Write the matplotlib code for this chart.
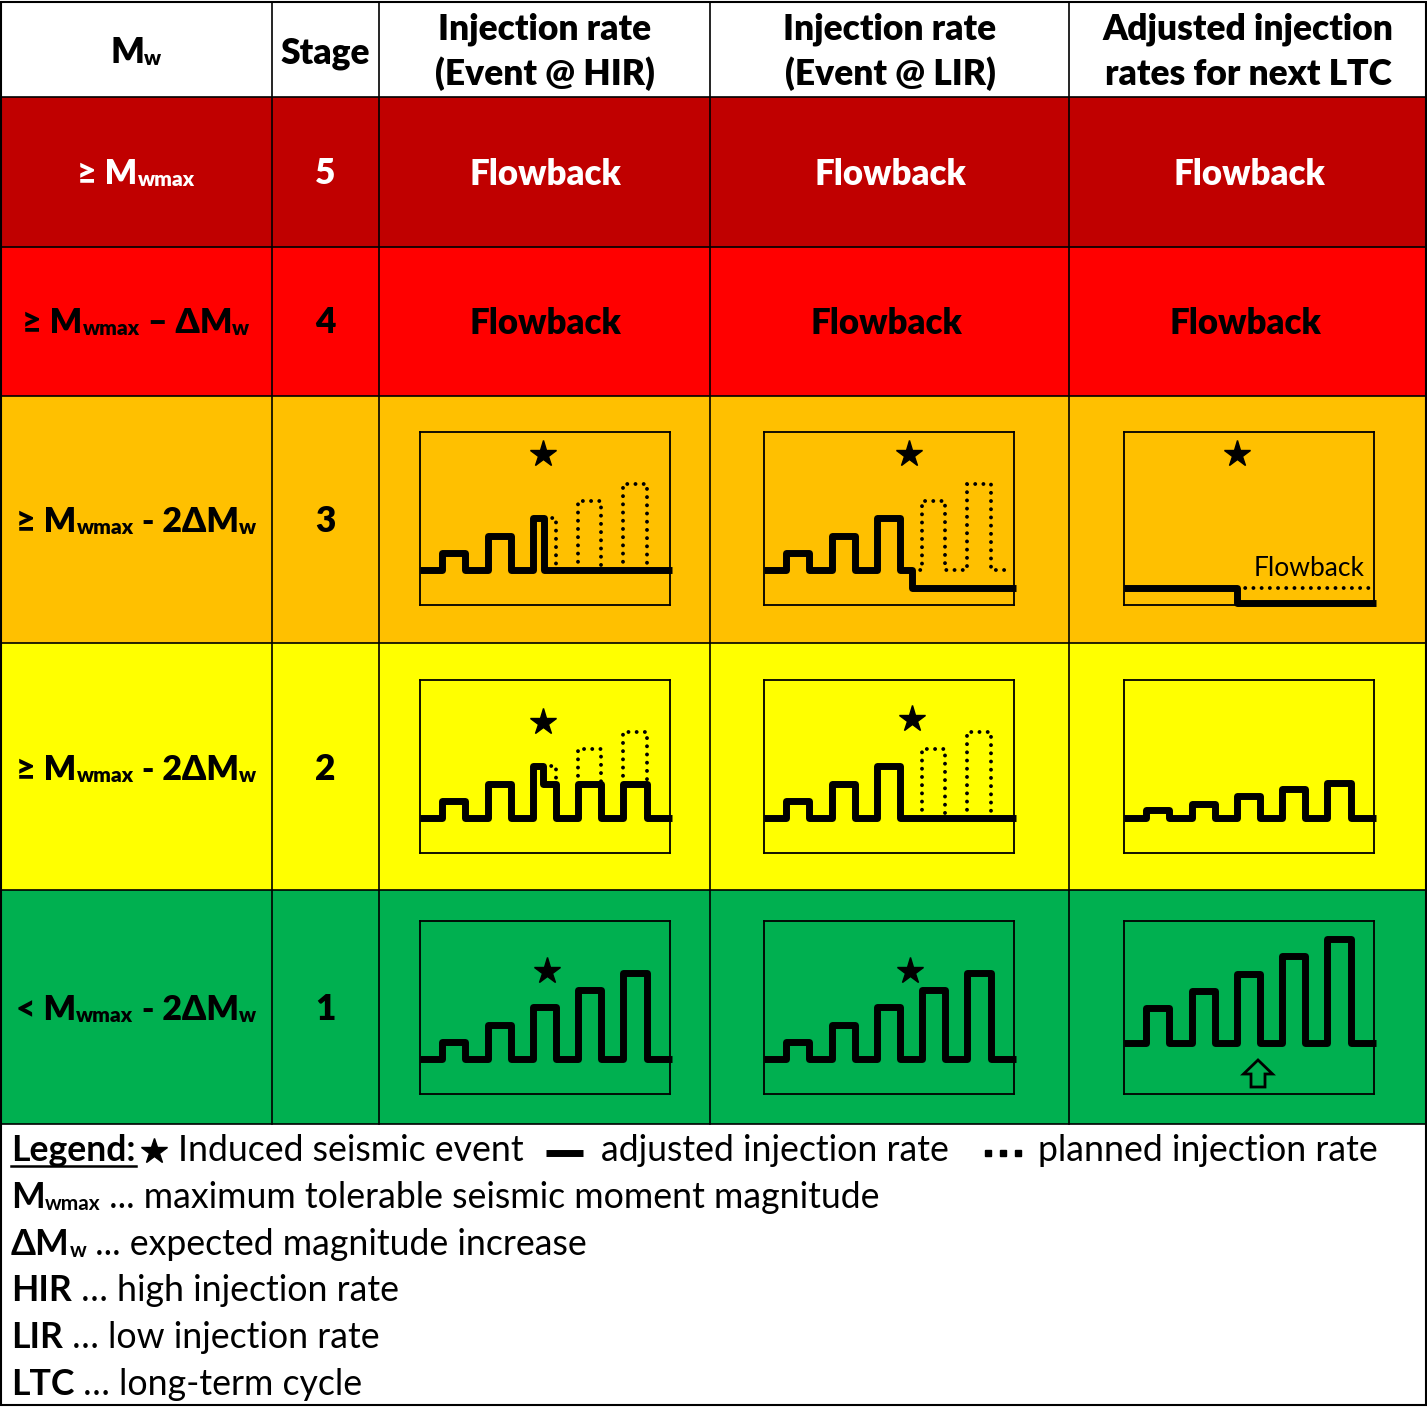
import matplotlib
matplotlib.use('Agg')
import matplotlib.pyplot as plt
from matplotlib.patches import Rectangle, Polygon

plt.rcParams['font.family'] = ['Lato', 'DejaVu Sans']

# ---------------- data ----------------
stages = ["5", "4", "3", "2", "1"]
row_colors = ['#C00000', '#FF0000', '#FFC000', '#FFFF00', '#00B050']
row_text_colors = ['white', 'black', 'black', 'black', 'black']
header_labels = ["Stage", "Injection rate\n(Event @ HIR)",
                 "Injection rate\n(Event @ LIR)",
                 "Adjusted injection\nrates for next LTC"]
mw_labels = [
    [("≥ M", 'm'), ("wmax", 's')],
    [("≥ M", 'm'), ("wmax", 's'), (" – ΔM", 'm'), ("w", 's')],
    [("≥ M", 'm'), ("wmax", 's'), (" - 2ΔM", 'm'), ("w", 's')],
    [("≥ M", 'm'), ("wmax", 's'), (" - 2ΔM", 'm'), ("w", 's')],
    [("< M", 'm'), ("wmax", 's'), (" - 2ΔM", 'm'), ("w", 's')],
]
flowback_text = "Flowback"

# injection cycle schedule (time units inside each mini panel)
pulse_rise = [22, 68, 113, 158, 203]
pulse_fall = [45, 91, 136, 181, 227]
planned_heights = [17, 34, 52, 69, 86]        # planned pulse amplitudes
adjusted_heights_s1 = [35, 52, 69, 87, 104]   # increased after stage 1
adjusted_heights_s2 = [8, 14, 22, 29, 35]     # reduced after stage 2
base_rate = 35
base_rate_s1_adj = 51
low_rate = 17
floor_rate = 2
t_end = 252
t_end_dotted = 242
event_stop_hir_s3 = 124
event_reduce_hir_s2 = 123
event_drop_lir_s3 = 148
event_adj_s3 = 113
# star positions (time, level) per panel
stars = {
    (3, 0): (123, 151), (3, 1): (145, 151), (3, 2): (113, 151),
    (2, 0): (123, 131), (2, 1): (148, 134),
    (1, 0): (127, 123), (1, 1): (146, 123),
}
arrow_time = 134

legend_items = ["Induced seismic event", "adjusted injection rate", "planned injection rate"]
abbrev = [
    ([("M", 'b'), ("wmax", 'bs')], " ... maximum tolerable seismic moment magnitude"),
    ([("ΔM", 'b'), ("w", 'bs')], " ... expected magnitude increase"),
    ([("HIR", 'b')], " … high injection rate"),
    ([("LIR", 'b')], " … low injection rate"),
    ([("LTC", 'b')], " … long-term cycle"),
]

# ---------------- layout ----------------
W, H = 1427, 1407
DPI = 100
fig = plt.figure(figsize=(W / DPI, H / DPI), dpi=DPI)
ax = fig.add_axes([0, 0, 1, 1])
ax.set_xlim(0, W)
ax.set_ylim(H, 0)
ax.axis('off')
renderer = fig.canvas.get_renderer()

col_x = [1, 272, 379, 710, 1069, 1426]
row_y = [2, 97, 247, 396, 643, 890, 1124]
bottom_y = 1405

BOLD = 'heavy'

# backgrounds
ax.add_patch(Rectangle((0, 0), W, H, facecolor='white', edgecolor='none', zorder=0))
for i, c in enumerate(row_colors):
    ax.add_patch(Rectangle((col_x[0], row_y[i + 1]), col_x[-1] - col_x[0],
                           row_y[i + 2] - row_y[i + 1], facecolor=c, edgecolor='none', zorder=0))
# grid lines
for x in col_x[1:-1]:
    ax.plot([x, x], [row_y[0], row_y[-1]], color='black', lw=1.2, zorder=2)
for y in row_y[1:]:
    ax.plot([col_x[0], col_x[-1]], [y, y], color='black', lw=1.2, zorder=2)
ax.add_patch(Rectangle((col_x[0], row_y[0]), col_x[-1] - col_x[0], bottom_y - row_y[0],
                       facecolor='none', edgecolor='black', lw=1.5, zorder=3))


def measure(s, size, weight):
    t = ax.text(0, 0, '|' + s + '|', fontsize=size, fontweight=weight)
    w1 = t.get_window_extent(renderer).width
    t.set_text('||')
    w2 = t.get_window_extent(renderer).width
    t.remove()
    return w1 - w2


def rich(x, y, pieces, ha='center', color='black'):
    """pieces: list of (text, size, weight, dy)"""
    widths = [measure(s, sz, wt) for s, sz, wt, dy in pieces]
    total = sum(widths)
    x0 = x - total / 2 if ha == 'center' else x
    cx = x0
    for (s, sz, wt, dy), w in zip(pieces, widths):
        ax.text(cx, y + dy, s, fontsize=sz, fontweight=wt, color=color,
                ha='left', va='baseline', zorder=5)
        cx += w
    return cx


HDR = 25.5
MAIN = 24.5
SUB = 15

# header
rich(136, 63, [("M", HDR, BOLD, 0), ("w", SUB, BOLD, 2)])
ax.text(325, 63, header_labels[0], fontsize=HDR, fontweight=BOLD, ha='center', va='baseline')
for lab, cx in zip(header_labels[1:], [545, 890, 1248]):
    l1, l2 = lab.split('\n')
    ax.text(cx, 39, l1, fontsize=HDR, fontweight=BOLD, ha='center', va='baseline')
    ax.text(cx, 85, l2, fontsize=HDR, fontweight=BOLD, ha='center', va='baseline')

row_baselines = [184, 333, 532, 780, 1020]
for i in range(5):
    col = row_text_colors[i]
    pcs = [(s, MAIN if k == 'm' else SUB, BOLD, 0 if k == 'm' else 2) for s, k in mw_labels[i]]
    rich(136, row_baselines[i], pcs, color=col)
    ax.text(325, row_baselines[i], stages[i], fontsize=HDR, fontweight=BOLD,
            ha='center', va='baseline', color=col)
# flowback rows
for i, xs in zip([0, 1], [[545, 890, 1249], [545, 886, 1245]]):
    for cx in xs:
        ax.text(cx, row_baselines[i] + 1, flowback_text, fontsize=25, fontweight=BOLD,
                ha='center', va='baseline', color=row_text_colors[i])

# ---------------- mini panels ----------------
box_left = [420, 764, 1124]
box_top = {3: 432, 2: 680, 1: 921}
BW, BH = 250, 173
LW = 5.0


def panel(stage, col):
    left = box_left[col] / W
    bottom = 1 - (box_top[stage] + BH) / H
    a = fig.add_axes([left, bottom, BW / W, BH / H])
    a.set_xlim(0, BW)
    a.set_ylim(0, BH)
    a.set_xticks([])
    a.set_yticks([])
    a.patch.set_alpha(0)
    for sp in a.spines.values():
        sp.set_linewidth(1.3)
    return a


def steps(idx, heights, base, x0, x1):
    xs, ys = [x0], [base]
    for i, h in zip(idx, heights):
        r, f = pulse_rise[i], pulse_fall[i]
        xs += [r, r, f, f]
        ys += [base, base + h, base + h, base]
    xs.append(x1)
    ys.append(base)
    return xs, ys


def solid(a, xs, ys):
    a.plot(xs, ys, color='black', lw=LW, solid_joinstyle='round',
           solid_capstyle='butt', clip_on=False, zorder=3)


def dotted(a, xs, ys):
    a.plot(xs, ys, color='black', lw=2.8, linestyle=(0, (0.01, 2.1)),
           dash_capstyle='round', clip_on=False, zorder=3)


def star(a, key):
    if key in stars:
        x, y = stars[key]
        a.plot([x], [y], marker='*', ms=20, color='black', mec='black', zorder=4)


b = base_rate
ph = planned_heights

# stage 3 HIR
a = panel(3, 0)
xs, ys = steps([0, 1], ph[:2], b, 0, pulse_rise[2])
xs += [pulse_rise[2], event_stop_hir_s3, event_stop_hir_s3, t_end]
ys += [b + ph[2], b + ph[2], b, b]
solid(a, xs, ys)
dotted(a, [event_stop_hir_s3, pulse_fall[2], pulse_fall[2]], [b + ph[2], b + ph[2], b])
for i in [3, 4]:
    dotted(a, [pulse_rise[i], pulse_rise[i], pulse_fall[i], pulse_fall[i]],
           [b, b + ph[i], b + ph[i], b])
star(a, (3, 0))

# stage 3 LIR
a = panel(3, 1)
xs, ys = steps([0, 1, 2], ph[:3], b, 0, event_drop_lir_s3)
xs += [event_drop_lir_s3, t_end]
ys += [low_rate, low_rate]
solid(a, xs, ys)
xs, ys = steps([3, 4], ph[3:], b, event_drop_lir_s3, t_end_dotted)
dotted(a, xs, ys)
star(a, (3, 1))

# stage 3 adjusted
a = panel(3, 2)
solid(a, [0, event_adj_s3, event_adj_s3, t_end], [low_rate, low_rate, floor_rate, floor_rate])
dotted(a, [event_adj_s3, BW], [low_rate, low_rate])
a.text(241, 29, flowback_text, fontsize=19, ha='right', va='baseline')
star(a, (3, 2))

# stage 2 HIR
a = panel(2, 0)
red = ph[1]
xs, ys = steps([0, 1], ph[:2], b, 0, pulse_rise[2])
xs += [pulse_rise[2], event_reduce_hir_s2, event_reduce_hir_s2, pulse_fall[2], pulse_fall[2]]
ys += [b + ph[2], b + ph[2], b + red, b + red, b]
x2, y2 = steps([3, 4], [red, red], b, pulse_fall[2], t_end)
solid(a, xs + x2, ys + y2)
dotted(a, [event_reduce_hir_s2, pulse_fall[2], pulse_fall[2]], [b + ph[2], b + ph[2], b + red])
for i in [3, 4]:
    dotted(a, [pulse_rise[i], pulse_rise[i], pulse_fall[i], pulse_fall[i]],
           [b + red, b + ph[i], b + ph[i], b + red])
star(a, (2, 0))

# stage 2 LIR
a = panel(2, 1)
xs, ys = steps([0, 1, 2], ph[:3], b, 0, t_end)
solid(a, xs, ys)
for i in [3, 4]:
    dotted(a, [pulse_rise[i], pulse_rise[i], pulse_fall[i], pulse_fall[i]],
           [b, b + ph[i], b + ph[i], b])
star(a, (2, 1))

# stage 2 adjusted
a = panel(2, 2)
xs, ys = steps(range(5), adjusted_heights_s2, b, 0, t_end)
solid(a, xs, ys)

# stage 1 HIR / LIR
for c in [0, 1]:
    a = panel(1, c)
    xs, ys = steps(range(5), ph, b, 0, t_end)
    solid(a, xs, ys)
    star(a, (1, c))

# stage 1 adjusted
a = panel(1, 2)
xs, ys = steps(range(5), adjusted_heights_s1, base_rate_s1_adj, 0, t_end)
solid(a, xs, ys)
cx = arrow_time
a.add_patch(Polygon([(cx - 7, 7), (cx + 7, 7), (cx + 7, 20), (cx + 14.5, 20), (cx, 34),
                     (cx - 14.5, 20), (cx - 7, 20)], closed=True, facecolor='none',
                    edgecolor='black', lw=2, zorder=3))

# ---------------- legend ----------------
LEG = 25.7
LBOLD = 'bold'
leg_base = [1161, 1208, 1255, 1301, 1348, 1395]
ex = rich(11, leg_base[0], [("Legend:", LEG, LBOLD, 0)], ha='left')
ax.plot([11, ex], [leg_base[0] + 5, leg_base[0] + 5], color='black', lw=1.8)
ax.plot([154], [leg_base[0] - 10], marker='*', ms=19, color='black')
ax.text(178, leg_base[0], legend_items[0], fontsize=LEG, va='baseline', ha='left')
ax.plot([546, 583], [leg_base[0] - 8, leg_base[0] - 8], color='black', lw=5, solid_capstyle='butt')
ax.text(601, leg_base[0], legend_items[1], fontsize=LEG, va='baseline', ha='left')
ax.plot([988, 1003, 1018], [leg_base[0] - 8] * 3, ls='none', marker='s', ms=4.5, color='black')
ax.text(1038, leg_base[0], legend_items[2], fontsize=LEG, va='baseline', ha='left')

for (bold_pcs, rest), yb in zip(abbrev, leg_base[1:]):
    pcs = []
    for s, k in bold_pcs:
        if k == 'b':
            pcs.append((s, LEG, LBOLD, 0))
        else:
            pcs.append((s, 15, LBOLD, 2))
    pcs.append((rest, LEG, 'normal', 0))
    rich(11, yb, pcs, ha='left')

fig.savefig('out.png', dpi=DPI)
